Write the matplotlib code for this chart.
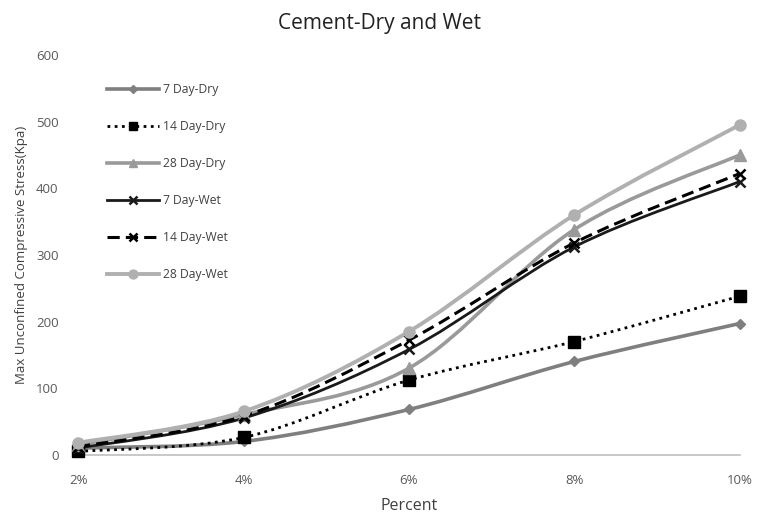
import numpy as np
import matplotlib
matplotlib.use('Agg')
import matplotlib.pyplot as plt
from matplotlib.path import Path
from matplotlib.patches import PathPatch
from matplotlib.lines import Line2D

plt.rcParams['font.family'] = ['Open Sans', 'DejaVu Sans']

percent = [2, 4, 6, 8, 10]
tick_labels = ['2%', '4%', '6%', '8%', '10%']

dry_7 = [10, 20, 68, 140, 197]
dry_14 = [5, 26, 112, 170, 238]
dry_28 = [15, 60, 130, 338, 450]
wet_7 = [10, 55, 158, 312, 410]
wet_14 = [12, 58, 172, 318, 422]
wet_28 = [18, 65, 185, 360, 495]

series = [
    ('7 Day-Dry', dry_7, dict(color='#7f7f7f', lw=2.6, ls='-', marker='D', ms=5)),
    ('14 Day-Dry', dry_14, dict(color='#000000', lw=2.0, ls=(0, (1, 1.6)), marker='s', ms=8)),
    ('28 Day-Dry', dry_28, dict(color='#9a9a9a', lw=2.6, ls='-', marker='^', ms=8)),
    ('7 Day-Wet', wet_7, dict(color='#1a1a1a', lw=2.0, ls='-', marker='x', ms=7)),
    ('14 Day-Wet', wet_14, dict(color='#000000', lw=2.2, ls=(0, (4, 2)), marker='x', ms=7)),
    ('28 Day-Wet', wet_28, dict(color='#b0b0b0', lw=2.8, ls='-', marker='o', ms=8)),
]


def smooth_path(x, y):
    # Excel-style smoothed line built from cubic Bezier segments
    pts = np.column_stack([x, y]).astype(float)
    ext = np.vstack([pts[0], pts, pts[-1]])
    verts = [tuple(pts[0])]
    codes = [Path.MOVETO]
    for i in range(len(pts) - 1):
        p0, p1, p2, p3 = ext[i], ext[i + 1], ext[i + 2], ext[i + 3]
        c1 = p1 + (p2 - p0) / 6.0
        c2 = p2 - (p3 - p1) / 6.0
        verts += [tuple(c1), tuple(c2), tuple(p2)]
        codes += [Path.CURVE4] * 3
    return Path(verts, codes)


fig = plt.figure(figsize=(7.58, 5.18), dpi=100)
ax = fig.add_axes([0.103, 0.122, 0.873, 0.772])

handles = []
for name, vals, st in series:
    patch = PathPatch(smooth_path(percent, vals), fill=False, edgecolor=st['color'],
                      lw=st['lw'], linestyle=st['ls'], capstyle='butt')
    ax.add_patch(patch)
    mew = 1.8 if st['marker'] == 'x' else 1.0
    ax.plot(percent, vals, linestyle='none', marker=st['marker'], ms=st['ms'],
            color=st['color'], mew=mew, zorder=3)
    handles.append(Line2D([], [], color=st['color'], lw=st['lw'], linestyle=st['ls'],
                          marker=st['marker'], ms=st['ms'] * 0.8, mew=mew))

ax.set_xlim(2, 10)
ax.set_ylim(0, 600)
ax.set_xticks(percent)
ax.set_xticklabels(tick_labels)
ax.set_yticks(range(0, 601, 100))
ax.tick_params(length=0, labelsize=9.5, colors='#595959', pad=14)
for s in ['top', 'right', 'left']:
    ax.spines[s].set_visible(False)
ax.spines['bottom'].set_color('#bfbfbf')
ax.spines['bottom'].set_linewidth(1.2)
for p in ax.patches:
    p.set_clip_on(False)
for l in ax.lines:
    l.set_clip_on(False)

ax.set_xlabel('Percent', fontsize=11.5, color='#404040', labelpad=8)
ax.set_ylabel('Max Unconfined Compressive Stress(Kpa)', fontsize=9.5, color='#404040', labelpad=6)
fig.suptitle('Cement-Dry and Wet', fontsize=15, color='#222222', y=0.975)

leg = ax.legend(handles, [s[0] for s in series], loc='upper left',
                bbox_to_anchor=(0.127, 0.86), bbox_transform=fig.transFigure,
                frameon=False, fontsize=8.7, handlelength=4.3, labelspacing=1.98,
                handletextpad=0.3)
for t in leg.get_texts():
    t.set_color('#404040')

fig.savefig('out.png', dpi=100)
